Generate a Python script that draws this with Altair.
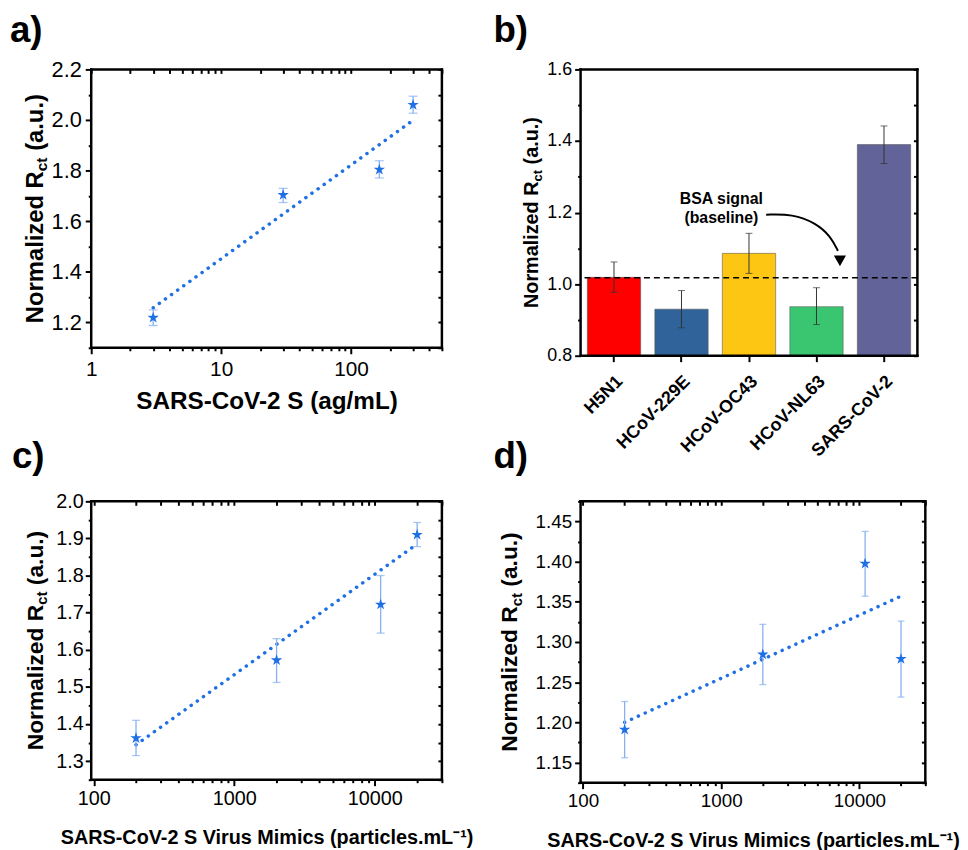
import altair as alt
import pandas as pd

FONT = "Liberation Sans"
STAR_BLUE = "#1f6fe5"
ERR_BLUE = "#86b0ef"
STAR = ("M0,-1L0.2245,-0.309L0.951,-0.309L0.363,0.118L0.588,0.809L0,0.382"
        "L-0.588,0.809L-0.363,0.118L-0.951,-0.309L-0.2245,-0.309Z")

# ---------------- panel a ----------------
a_conc = [3, 30, 165, 300]
a_val = [1.219, 1.704, 1.804, 2.060]
a_lo = [1.188, 1.674, 1.771, 2.027]
a_hi = [1.250, 1.730, 1.839, 2.094]
a_fit_x = [3, 300]
a_fit_y = [1.258, 1.999]
a_xdom = [1, 500]
a_ydom = [1.1, 2.2]
a_xticks = [1, 2, 3, 4, 5, 6, 7, 8, 9, 10, 20, 30, 40, 50, 60, 70, 80, 90,
            100, 200, 300, 400, 500]
a_yticks = [1.1, 1.2, 1.3, 1.4, 1.5, 1.6, 1.7, 1.8, 1.9, 2.0, 2.1, 2.2]

# ---------------- panel b ----------------
b_cat = ["H5N1", "HCoV-229E", "HCoV-OC43", "HCoV-NL63", "SARS-CoV-2"]
b_val = [1.019, 0.930, 1.086, 0.937, 1.390]
b_lo = [0.977, 0.878, 1.030, 0.887, 1.337]
b_hi = [1.062, 0.982, 1.142, 0.990, 1.442]
b_col = ["#ff0000", "#2f6399", "#fcc612", "#3ac671", "#626399"]
b_baseline = [1.018]
b_ydom = [0.8, 1.6]
b_xdom = [0, 5]
b_yticks = [0.8, 0.9, 1.0, 1.1, 1.2, 1.3, 1.4, 1.5, 1.6]
b_note = ["BSA signal", "(baseline)"]
b_note_x = [2.09, 2.09]
b_note_y = [1.237, 1.185]
b_arrow_x = [2.755, 3.147, 3.49, 3.71, 3.82]
b_arrow_y = [1.194, 1.196, 1.171, 1.134, 1.093]
b_head_x = [3.85]
b_head_y = [1.065]

# ---------------- panel c ----------------
c_conc = [200, 2000, 11000, 20000]
c_val = [1.362, 1.572, 1.722, 1.910]
c_lo = [1.315, 1.512, 1.645, 1.878]
c_hi = [1.410, 1.630, 1.800, 1.943]
c_fit_x = [200, 20000]
c_fit_y = [1.344, 1.885]
c_ydom = [1.25, 2.0]
c_yticks = [1.25, 1.3, 1.35, 1.4, 1.45, 1.5, 1.55, 1.6, 1.65, 1.7, 1.75,
            1.8, 1.85, 1.9, 1.95, 2.0]

# ---------------- panel d ----------------
d_conc = [200, 2000, 11000, 20000]
d_val = [1.191, 1.2845, 1.3975, 1.279]
d_lo = [1.156, 1.247, 1.357, 1.2315]
d_hi = [1.226, 1.322, 1.4376, 1.326]
d_fit_x = [200, 20000]
d_fit_y = [1.200, 1.357]
d_ydom = [1.125, 1.475]
d_yticks = [1.125, 1.15, 1.175, 1.2, 1.225, 1.25, 1.275, 1.3, 1.325, 1.35,
            1.375, 1.4, 1.425, 1.45, 1.475]

cd_xdom = [96, 30000]
cd_xticks = [100, 200, 300, 400, 500, 600, 700, 800, 900, 1000, 2000, 3000,
             4000, 5000, 6000, 7000, 8000, 9000, 10000, 20000, 30000]

MIMICS = "SARS-CoV-2 S Virus Mimics (particles.mL\u207b\u00b9)"


def make_axis(values, major, fmt, fs, pad, title=None, tfs=None, tpad=None,
              weight="normal", **kw):
    args = dict(values=values, format=fmt,
                labelExpr=f"({major}) ? datum.label : ''",
                tickSize={"condition": {"test": major, "value": 6}, "value": 3},
                tickWidth=2, tickColor="black", domain=False, grid=False,
                labelFont=FONT, labelFontSize=fs, labelColor="black",
                labelFontWeight=weight, labelOverlap=False, labelFlush=False,
                labelPadding=pad, title=title)
    if title is not None:
        args.update(titleFont=FONT, titleFontSize=tfs, titleFontWeight="bold",
                    titleColor="black", titlePadding=tpad)
    args.update(kw)
    return alt.Axis(**args)


def mirror_axis(values, orient):
    # inner ticks on the top / right side of the frame
    return alt.Axis(orient=orient, values=values, labels=False, domain=False,
                    grid=False, tickSize=4, tickWidth=2, tickColor="black",
                    offset=-4, title=None)


def ytitle_layers(F, xb, yc):
    fs = 0.65 * F
    w1 = 6.390 * F
    w2 = 0.889 * fs
    wsp = 0.278 * F
    w3 = 2.389 * F
    y0 = yc + (w1 + w2 + wsp + w3) / 2
    pieces = [("Normalized R", F, xb, y0),
              ("ct", fs, xb + 0.2 * F, y0 - w1),
              ("(a.u.)", F, xb, y0 - w1 - w2 - wsp)]
    out = []
    for t, f, x, y in pieces:
        out.append(alt.Chart(alt.Data(values=[{"t": t}])).mark_text(
            text=t, font=FONT, fontSize=f, fontWeight="bold", angle=270,
            align="left", baseline="alphabetic", color="black"
        ).encode(x=alt.value(x), y=alt.value(y)))
    return out


def letter_layer(txt, dx, dy):
    return alt.Chart(alt.Data(values=[{"t": txt}])).mark_text(
        text=txt, font=FONT, fontSize=37, fontWeight="bold", align="left",
        baseline="bottom", color="black"
    ).encode(x=alt.value(dx), y=alt.value(dy))


def frame_layers(xdom, ydom, X, Y):
    fx = alt.Chart(pd.DataFrame({"x": xdom})).mark_rule(
        color="black", strokeWidth=2.5, strokeCap="square").encode(x=X)
    fy = alt.Chart(pd.DataFrame({"y": ydom})).mark_rule(
        color="black", strokeWidth=2.5, strokeCap="square").encode(y=Y)
    return [fx, fy]


def scatter_panel(xs, ys, lo, hi, fx, fy, xdom, ydom, xticks, yticks, xaxis, yaxis,
                  w, h, cap, ytf, ytxb, letter, ldx, ldy):
    pts = pd.DataFrame({"x": xs, "y": ys, "lo": lo, "hi": hi})
    fit = pd.DataFrame({"x": fx, "y": fy})
    xsc = alt.Scale(type="log", domain=xdom, nice=False)
    ysc = alt.Scale(domain=ydom, nice=False, zero=False)

    def X(f):
        return alt.X(f"{f}:Q", scale=xsc, axis=xaxis)

    def Y(f):
        return alt.Y(f"{f}:Q", scale=ysc, axis=yaxis)

    line = alt.Chart(fit).mark_line(
        color=STAR_BLUE, strokeWidth=3.5, strokeDash=[0.1, 7.5], strokeCap="round"
    ).encode(x=X("x"), y=Y("y"))
    rule = alt.Chart(pts).mark_rule(color=ERR_BLUE, strokeWidth=1.3).encode(
        x=X("x"), y=Y("lo"), y2="hi:Q")
    cap_lo = alt.Chart(pts).mark_tick(
        color=ERR_BLUE, orient="horizontal", size=cap, thickness=1.3
    ).encode(x=X("x"), y=Y("lo"))
    cap_hi = alt.Chart(pts).mark_tick(
        color=ERR_BLUE, orient="horizontal", size=cap, thickness=1.3
    ).encode(x=X("x"), y=Y("hi"))
    stars = alt.Chart(pts).mark_point(
        shape=STAR, filled=True, size=145, color=STAR_BLUE, opacity=1
    ).encode(x=X("x"), y=Y("y"))
    inner = alt.layer(line, rule, cap_lo, cap_hi, stars,
                      *ytitle_layers(ytf, ytxb, h / 2),
                      letter_layer(letter, ldx, ldy))
    # second layer: linear frame scales (same domain ends) + inner ticks
    fxs = alt.Scale(domain=[0, 1], nice=False, zero=False)
    fys = alt.Scale(domain=ydom, nice=False, zero=False)
    FX = alt.X("x:Q", scale=fxs, axis=None)
    FY = alt.Y("y:Q", scale=fys, axis=mirror_axis(yticks, "right"))
    frame = alt.layer(*frame_layers([0, 1], ydom, FX, FY))
    top_ticks = alt.Chart(fit).mark_point(opacity=0).encode(
        x=alt.X("x:Q", scale=xsc, axis=mirror_axis(xticks, "top")))
    return alt.layer(alt.layer(inner, top_ticks).resolve_axis(x="independent"),
                     frame).resolve_scale(x="independent").resolve_axis(
        y="independent").properties(width=w, height=h)


MAJ_02 = "abs(datum.value*5 - round(datum.value*5)) < 0.001"
MAJ_01 = "abs(datum.value*10 - round(datum.value*10)) < 0.001"
MAJ_005 = "abs(datum.value*20 - round(datum.value*20)) < 0.001"

# panel a
pa = scatter_panel(
    a_conc, a_val, a_lo, a_hi, a_fit_x, a_fit_y, a_xdom, a_ydom, a_xticks, a_yticks,
    make_axis(a_xticks, "indexof([1,10,100], datum.value) >= 0", "d", 21, 5,
              title="SARS-CoV-2 S (ag/mL)", tfs=24.5, tpad=10),
    make_axis(a_yticks, MAJ_02, ".1f", 22, 4),
    354, 281, 9, 24, -49, "a)", -82, -20)

# panel c
pc = scatter_panel(
    c_conc, c_val, c_lo, c_hi, c_fit_x, c_fit_y, cd_xdom, c_ydom, cd_xticks, c_yticks,
    make_axis(cd_xticks, "indexof([100,1000,10000], datum.value) >= 0", "d", 20, 3,
              title=MIMICS, tfs=20, tpad=19),
    make_axis(c_yticks, MAJ_01, ".1f", 20, 2),
    354, 281, 8, 23, -49, "c)", -80, -26)

# panel d
pdd = scatter_panel(
    d_conc, d_val, d_lo, d_hi, d_fit_x, d_fit_y, cd_xdom, d_ydom, cd_xticks, d_yticks,
    make_axis(cd_xticks, "indexof([100,1000,10000], datum.value) >= 0", "d", 19, 3,
              title=MIMICS, tfs=20, tpad=20),
    make_axis(d_yticks, MAJ_005, ".2f", 19, 3),
    348, 284, 7, 23, -64, "d)", -88, -26)

# panel b
bdf = pd.DataFrame({"cat": b_cat, "v": b_val, "lo": b_lo, "hi": b_hi})
bysc = alt.Scale(domain=b_ydom, nice=False, zero=False)
bxaxis = alt.Axis(labelAngle=315, labelAlign="right", labelBaseline="middle",
                  labelFont=FONT, labelFontSize=18, labelFontWeight="bold",
                  labelColor="black", labelPadding=17, labelOffset=6,
                  tickSize=6, tickWidth=2, tickColor="black", domain=False,
                  grid=False, title=None)
byaxis = make_axis(b_yticks, MAJ_02, ".1f", 18, 3)
bymirror = mirror_axis(b_yticks, "right")
BX = alt.X("cat:N", sort=b_cat, scale=alt.Scale(paddingInner=0.21, paddingOuter=0.1),
           axis=bxaxis)
bars = alt.Chart(bdf).mark_bar(stroke="#555555", strokeWidth=0.8, strokeOpacity=0.7).encode(
    x=BX, y=alt.Y("v:Q", scale=bysc, axis=byaxis), y2=alt.datum(0.8),
    color=alt.Color("cat:N", scale=alt.Scale(domain=b_cat, range=b_col), legend=None))
berr = alt.Chart(bdf).mark_rule(color="#333333", strokeWidth=1).encode(
    x=BX, y=alt.Y("lo:Q", scale=bysc, axis=byaxis), y2="hi:Q")
bcap_lo = alt.Chart(bdf).mark_tick(color="#333333", orient="horizontal", size=7,
                                   thickness=1).encode(
    x=BX, y=alt.Y("lo:Q", scale=bysc, axis=byaxis))
bcap_hi = alt.Chart(bdf).mark_tick(color="#333333", orient="horizontal", size=7,
                                   thickness=1).encode(
    x=BX, y=alt.Y("hi:Q", scale=bysc, axis=byaxis))
bbase = alt.Chart(pd.DataFrame({"v": b_baseline})).mark_rule(
    color="black", strokeDash=[6, 4], strokeWidth=1.6).encode(
    y=alt.Y("v:Q", scale=bysc, axis=byaxis))
QX = alt.Scale(domain=b_xdom, nice=False, zero=False)
BQX = alt.X("x:Q", scale=QX, axis=None)
BQY = alt.Y("y:Q", scale=bysc, axis=bymirror)
bnote = alt.Chart(pd.DataFrame({"t": b_note, "x": b_note_x, "y": b_note_y})).mark_text(
    font=FONT, fontSize=16, fontWeight="bold", color="black", align="center",
    baseline="middle").encode(x=BQX, y=BQY, text="t:N")
barrow = alt.Chart(pd.DataFrame({"x": b_arrow_x, "y": b_arrow_y})).mark_line(
    color="black", strokeWidth=2, interpolate="basis").encode(x=BQX, y=BQY)
bhead = alt.Chart(pd.DataFrame({"x": b_head_x, "y": b_head_y})).mark_point(
    shape="triangle-down", filled=True, size=150, color="black", opacity=1).encode(
    x=BQX, y=BQY)
bframe = frame_layers(b_xdom, b_ydom, BQX, BQY)
bar_layer = alt.layer(bars, berr, bcap_lo, bcap_hi, bbase)
pb = alt.layer(bar_layer, alt.layer(bnote, barrow, bhead, *bframe),
               *ytitle_layers(20, -43, 289 / 2), letter_layer("b)", -88, -20)
               ).resolve_scale(x="independent").resolve_axis(
    y="independent").properties(width=340, height=289)

chart = alt.concat(pa, pb, pc, pdd, columns=2, bounds="flush",
                   spacing={"row": 147, "column": 140}).properties(
    padding={"left": 2, "top": 0, "right": 0, "bottom": 0}, background="white"
).configure_view(stroke=None)

chart.save("out.html", embed_options={"renderer": "svg", "actions": False})
